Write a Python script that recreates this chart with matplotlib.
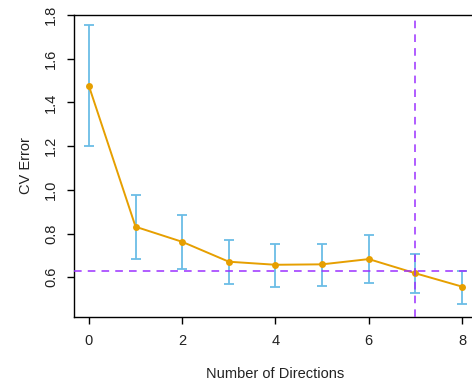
import matplotlib
matplotlib.use("Agg")
import matplotlib.pyplot as plt

plt.rcParams['font.family'] = ['Liberation Sans', 'DejaVu Sans']

directions = [0, 1, 2, 3, 4, 5, 6, 7, 8]
cv_error = [1.475, 0.831, 0.762, 0.671, 0.657, 0.659, 0.683, 0.618, 0.557]
err_upper = [1.754, 0.976, 0.885, 0.770, 0.750, 0.750, 0.793, 0.705, 0.630]
err_lower = [1.200, 0.682, 0.636, 0.569, 0.554, 0.561, 0.572, 0.526, 0.476]
hline_value = 0.630
vline_value = 7
xticks = [0, 2, 4, 6, 8]
yticks = [0.6, 0.8, 1.0, 1.2, 1.4, 1.6, 1.8]

W, H = 472, 383
fig = plt.figure(figsize=(W / 100, H / 100), dpi=100)
ax = fig.add_axes([74 / W, 1 - 317 / H, (477 - 74) / W, (317 - 15) / H])

lower = [c - l for c, l in zip(cv_error, err_lower)]
upper = [u - c for c, u in zip(cv_error, err_upper)]
ax.errorbar(directions, cv_error, yerr=[lower, upper], fmt='none',
            ecolor='#6BBDE6', elinewidth=1.3, capsize=3.6, capthick=1.3, zorder=2)
ax.plot(directions, cv_error, color='#E69F00', lw=1.4, marker='o',
        markersize=5, markeredgewidth=0, zorder=3)
ax.axhline(hline_value, color='#9B30FF', lw=1.1, ls=(0, (5, 4)), zorder=4)
ax.axvline(vline_value, color='#9B30FF', lw=1.1, ls=(0, (5, 4)), zorder=4)

ax.set_xlim(-0.32, 8.32)
ax.set_ylim(0.418, 1.80)
ax.set_xticks(xticks)
ax.set_yticks(yticks)
ax.set_yticklabels([f"{v:.1f}" for v in yticks], rotation=90, va='center')
ax.tick_params(direction='out', length=5, width=1, labelsize=10.5,
               labelcolor='#222222')
ax.tick_params(axis='x', pad=7)
ax.tick_params(axis='y', pad=6.5)
for s in ax.spines.values():
    s.set_linewidth(1.0)
ax.set_xlabel('Number of Directions', fontsize=10.5, labelpad=14, color='#222222')
ax.set_ylabel('CV Error', fontsize=10.5, labelpad=8, color='#222222')

fig.savefig('out.png', dpi=100)
